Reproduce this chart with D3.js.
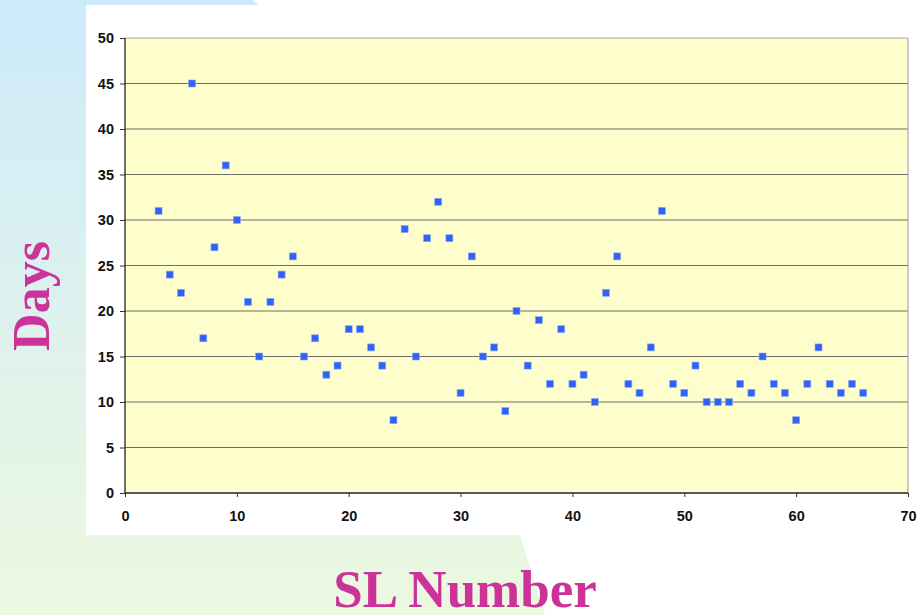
<!DOCTYPE html>
<html>
<head>
<meta charset="utf-8">
<script src="https://cdn.jsdelivr.net/npm/d3@7"></script>
<style>
  body { margin: 0; background: #fff; }
  svg { display: block; }
</style>
</head>
<body>
<div id="chart"></div>
<script>
// SL number vs days
var slNumbers = [3, 4, 5, 6, 7, 8, 9, 10, 11, 12, 13, 14, 15, 16, 17, 18, 19, 20,
  21, 22, 23, 24, 25, 26, 27, 28, 29, 30, 31, 32, 33, 34, 35, 36, 37, 38, 39, 40,
  41, 42, 43, 44, 45, 46, 47, 48, 49, 50, 51, 52, 53, 54, 55, 56, 57, 58, 59, 60,
  61, 62, 63, 64, 65, 66];
var days = [31, 24, 22, 45, 17, 27, 36, 30, 21, 15, 21, 24, 26, 15, 17, 13, 14, 18,
  18, 16, 14, 8, 29, 15, 28, 32, 28, 11, 26, 15, 16, 9, 20, 14, 19, 12, 18, 12,
  13, 10, 22, 26, 12, 11, 16, 31, 12, 11, 14, 10, 10, 10, 12, 11, 15, 12, 11, 8,
  12, 16, 12, 11, 12, 11];
var xTicks = [0, 10, 20, 30, 40, 50, 60, 70];
var yTicks = [0, 5, 10, 15, 20, 25, 30, 35, 40, 45, 50];

var W = 919, H = 615;
var svg = d3.select("#chart").append("svg").attr("width", W).attr("height", H);

var defs = svg.append("defs");
var grad = defs.append("linearGradient").attr("id", "bg")
  .attr("x1", 0).attr("y1", 0).attr("x2", 0).attr("y2", 1);
grad.append("stop").attr("offset", "0%").attr("stop-color", "#cdeafb");
grad.append("stop").attr("offset", "100%").attr("stop-color", "#ecf8e0");

// slide background wedge
svg.append("path")
  .attr("d", "M0,0 L253,0 L258,5 L520,535 L545,615 L0,615 Z")
  .attr("fill", "url(#bg)");

// white chart panel
svg.append("rect").attr("x", 86).attr("y", 5).attr("width", 833).attr("height", 530)
  .attr("fill", "#fff");

var x = d3.scaleLinear().domain([0, 70]).range([125, 908]);
var y = d3.scaleLinear().domain([0, 50]).range([493, 38]);

// plot area
svg.append("rect")
  .attr("x", x(0)).attr("y", y(50))
  .attr("width", x(70) - x(0)).attr("height", y(0) - y(50))
  .attr("fill", "#fefdcc");

// gridlines
svg.append("g").selectAll("line").data(yTicks.filter(function(d) { return d > 0; }))
  .join("line")
  .attr("x1", x(0)).attr("x2", x(70))
  .attr("y1", function(d) { return y(d); }).attr("y2", function(d) { return y(d); })
  .attr("stroke", function(d) { return d === 50 ? "#a8a8a8" : "#6f6f68"; })
  .attr("stroke-width", 1.2);

// right border
svg.append("line").attr("x1", x(70)).attr("x2", x(70)).attr("y1", y(50)).attr("y2", y(0))
  .attr("stroke", "#a8a8a8").attr("stroke-width", 1.2);

// axes
var yAxis = d3.axisLeft(y).tickValues(yTicks).tickSize(5).tickPadding(6);
var xAxis = d3.axisBottom(x).tickValues(xTicks).tickSize(4).tickPadding(14);

var gy = svg.append("g").attr("transform", "translate(" + x(0) + ",0)").call(yAxis);
var gx = svg.append("g").attr("transform", "translate(0," + y(0) + ")").call(xAxis);

[gx, gy].forEach(function(g) {
  g.select(".domain").attr("stroke", "#222").attr("stroke-width", 1.3);
  g.selectAll(".tick line").attr("stroke", "#333");
  g.selectAll("text")
    .attr("fill", "#111")
    .style("font-family", "'Liberation Sans', Arial, sans-serif")
    .style("font-weight", "bold")
    .style("font-size", "14.5px");
});
gx.select(".domain").attr("d", "M" + x(0) + ",0H" + x(70));
gy.select(".domain").attr("d", "M0," + y(0) + "V" + y(50));

// points
svg.append("g").selectAll("rect").data(slNumbers)
  .join("rect")
  .attr("x", function(d) { return x(d) - 3.5; })
  .attr("y", function(d, i) { return y(days[i]) - 3.5; })
  .attr("width", 7).attr("height", 7)
  .attr("fill", "#2f62f5")
  .attr("stroke", "#8fa8f5").attr("stroke-width", 0.6);

// axis titles
svg.append("text")
  .attr("x", 465).attr("y", 607)
  .attr("text-anchor", "middle")
  .style("font-family", "'Liberation Serif', 'Times New Roman', serif")
  .style("font-weight", "bold")
  .style("font-size", "53px")
  .attr("fill", "#cc3399")
  .text("SL Number");

svg.append("text")
  .attr("transform", "translate(49,296) rotate(-90)")
  .attr("text-anchor", "middle")
  .style("font-family", "'Liberation Serif', 'Times New Roman', serif")
  .style("font-weight", "bold")
  .style("font-size", "52px")
  .attr("fill", "#cc3399")
  .text("Days");
</script>
</body>
</html>
